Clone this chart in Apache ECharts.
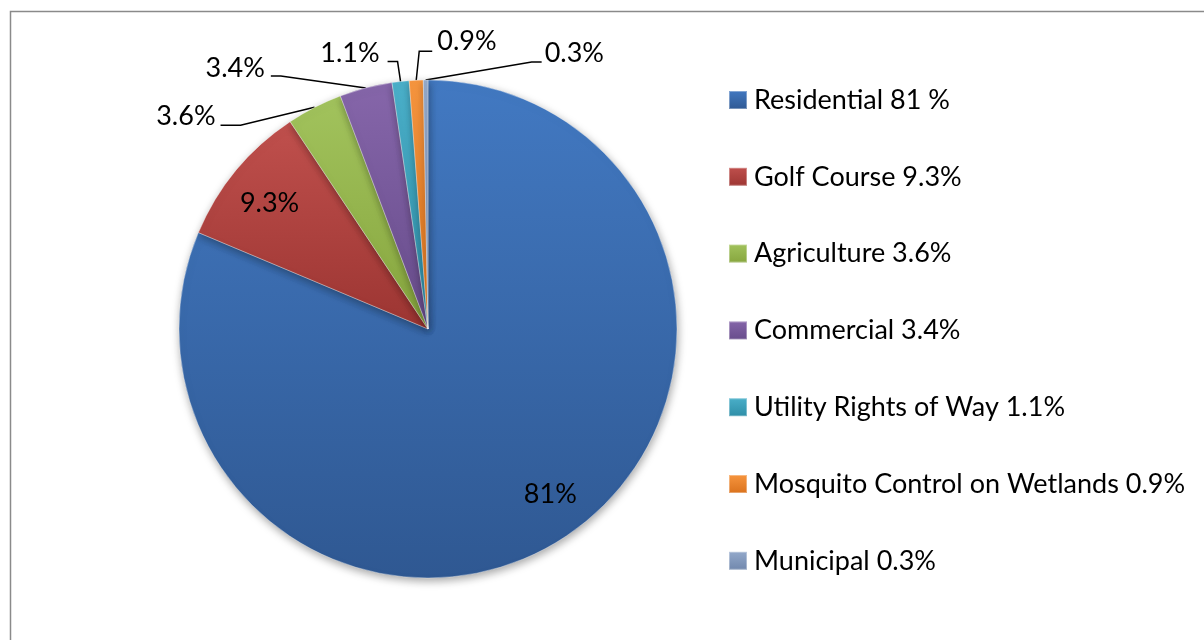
<!DOCTYPE html>
<html>
<head>
<meta charset="utf-8">
<script src="https://cdn.jsdelivr.net/npm/echarts@6/dist/echarts.min.js"></script>
<style>
html,body{margin:0;padding:0;background:#fff;}
#chart{width:1204px;height:640px;}
</style>
</head>
<body>
<div id="chart"></div>
<script>
// ---- data ----
const categories = ['Residential', 'Golf Course', 'Agriculture', 'Commercial', 'Utility Rights of Way', 'Mosquito Control on Wetlands', 'Municipal'];
const values = [81, 9.3, 3.6, 3.4, 1.1, 0.9, 0.3];
const sliceLabels = ['81%', '9.3%', '3.6%', '3.4%', '1.1%', '0.9%', '0.3%'];
const legendSuffix = ['81 %', '9.3%', '3.6%', '3.4%', '1.1%', '0.9%', '0.3%'];

// ---- style ----
const FONT = 'Lato, "Open Sans", sans-serif';
const CX = 428, CY = 329, R = 249;
const palette = [
  ['#4279C2', '#2F5892'],
  ['#C0504D', '#9C3532'],
  ['#A2C35D', '#86A53D'],
  ['#8666AA', '#664B8A'],
  ['#4BB0CA', '#2D8DA6'],
  ['#F7963F', '#D9711C'],
  ['#94AACB', '#6F86AC']
];
// inside labels: [radiusFraction, dx, dy]
const insidePlacement = {
  0: [0.815, 10, -4],
  1: [0.815, -2, 4]
};
// outside labels: [dx1, dy1, dx2, textDx, textDy, align]
const placement = {
  2: [-74, 18, -20, -5, -9, 'right'],
  3: [-85, -12, -10, -6, -8, 'right'],
  4: [-3, -20, -10, -8, -8, 'right'],
  5: [3, -29, 13, 5, -10, 'left'],
  6: [106, -18, 10, 3, -9, 'left']
};

const total = values.reduce((a, b) => a + b, 0);
const mids = [];
let acc = 0;
values.forEach(v => { mids.push((acc + v / 2) / total * Math.PI * 2); acc += v; });

const legendMap = {};
categories.forEach((c, i) => { legendMap[c] = c + ' ' + legendSuffix[i]; });

const seriesData = categories.map((c, i) => ({
  name: c,
  value: values[i],
  itemStyle: {
    color: new echarts.graphic.LinearGradient(0, 0, 0, 1, [
      { offset: 0, color: palette[i][0] },
      { offset: 1, color: palette[i][1] }
    ])
  },
  label: {
    show: true,
    position: i < 2 ? 'inside' : 'outside',
    formatter: sliceLabels[i]
  },
  labelLine: { show: i >= 2 }
}));

const chart = echarts.init(document.getElementById('chart'), null, { renderer: 'canvas' });
chart.setOption({
  animation: false,
  backgroundColor: '#fff',
  graphic: [{
    type: 'rect',
    shape: { x: 10.5, y: 11.5, width: 1400, height: 800 },
    style: { fill: 'none', stroke: '#8a8a8a', lineWidth: 1.5 },
    silent: true
  }],
  legend: {
    orient: 'vertical',
    left: 728,
    top: 85,
    padding: 0,
    icon: 'rect',
    itemWidth: 18,
    itemHeight: 18,
    itemGap: 46.8,
    formatter: name => legendMap[name],
    textStyle: { fontFamily: FONT, fontSize: 27, color: '#000', lineHeight: 30, padding: [0, 0, 0, 2] },
    data: categories
  },
  series: [{
    type: 'pie',
    center: [CX, CY],
    radius: R,
    startAngle: 90,
    clockwise: true,
    avoidLabelOverlap: false,
    data: seriesData,
    itemStyle: {
      borderColor: 'rgba(255,255,255,0.35)',
      borderWidth: 1,
      shadowBlur: 8,
      shadowColor: 'rgba(0,0,0,0.35)',
      shadowOffsetX: 1,
      shadowOffsetY: 3
    },
    label: { fontFamily: FONT, fontSize: 27, color: '#000' },
    labelLine: { lineStyle: { color: '#000', width: 1.5 } },
    labelLayout: function (params) {
      const i = params.dataIndex;
      const a = mids[i];
      if (insidePlacement[i]) {
        const q = insidePlacement[i];
        return {
          x: CX + q[0] * R * Math.sin(a) + q[1],
          y: CY - q[0] * R * Math.cos(a) + q[2],
          align: 'center',
          verticalAlign: 'middle'
        };
      }
      const p = placement[i];
      const ax = CX + R * Math.sin(a), ay = CY - R * Math.cos(a);
      const p1x = ax + p[0], p1y = ay + p[1];
      const p2x = p1x + p[2], p2y = p1y;
      return {
        x: p2x + p[3],
        y: p2y + p[4],
        align: p[5],
        verticalAlign: 'middle',
        labelLinePoints: [[ax, ay], [p1x, p1y], [p2x, p2y]]
      };
    }
  }]
});
</script>
</body>
</html>
